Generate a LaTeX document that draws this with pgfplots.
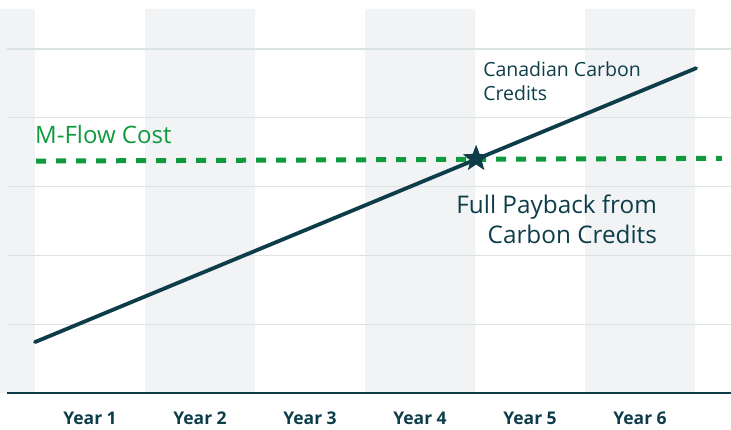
\documentclass[border=0pt]{standalone}
\usepackage{pgfplots}
\pgfplotsset{compat=1.18}
\usepackage{fontspec}
\setmainfont{Open Sans}
\definecolor{teal}{HTML}{0E3D4A}
\definecolor{mgreen}{HTML}{109A3E}
\definecolor{band}{HTML}{F1F3F5}
\definecolor{gridc}{HTML}{DCE3E3}
\pgfdeclareplotmark{fstar}{%
  \pgfpathmoveto{\pgfpointpolar{90}{\pgfplotmarksize}}%
  \pgfpathlineto{\pgfpointpolar{126}{0.42\pgfplotmarksize}}%
  \pgfpathlineto{\pgfpointpolar{162}{\pgfplotmarksize}}%
  \pgfpathlineto{\pgfpointpolar{198}{0.42\pgfplotmarksize}}%
  \pgfpathlineto{\pgfpointpolar{234}{\pgfplotmarksize}}%
  \pgfpathlineto{\pgfpointpolar{270}{0.42\pgfplotmarksize}}%
  \pgfpathlineto{\pgfpointpolar{306}{\pgfplotmarksize}}%
  \pgfpathlineto{\pgfpointpolar{342}{0.42\pgfplotmarksize}}%
  \pgfpathlineto{\pgfpointpolar{18}{\pgfplotmarksize}}%
  \pgfpathlineto{\pgfpointpolar{54}{0.42\pgfplotmarksize}}%
  \pgfpathclose
  \pgfusepathqfill}
\begin{document}
\begin{tikzpicture}
\begin{axis}[
  set layers,
  scale only axis,
  width=724pt, height=384pt,
  xmin=0.2455, xmax=6.827,
  ymin=0, ymax=5.58,
  axis y line*=left,
  y axis line style={draw=none},
  axis x line*=bottom,
  x axis line style={draw=teal, line width=2.5pt, -},
  xtick={1,2,3,4,5,6},
  xticklabels={Year 1,Year 2,Year 3,Year 4,Year 5,Year 6},
  xtick style={draw=none},
  xticklabel style={font=\bfseries\fontsize{17.5}{20}\selectfont, text=teal, anchor=base, yshift=-32pt},
  ytick={1,2,3,4,5},
  yticklabels={},
  ytick style={draw=none},
  ymajorgrids=true,
  xmajorgrids=false,
  y grid style={draw=gridc, line width=1.2pt},
  clip=true,
]
\addplot[ybar interval, fill=band, draw=none, on layer=axis background]
  coordinates {(-0.5,5.58) (0.5,0) (1.5,5.58) (2.5,0) (3.5,5.58) (4.5,0) (5.5,5.58) (6.5,0) (7.5,0)};
\addplot[mgreen, line width=5pt, dash pattern=on 10pt off 10pt] coordinates {(0.51,3.37) (6.745,3.41)};
\addplot[teal, line width=3.8pt, line cap=round] coordinates {(0.5,0.74) (6.51,4.72)};
\addplot[only marks, mark=fstar, mark size=14pt, teal] coordinates {(4.51,3.405)};
\node[anchor=base west, inner sep=0, text=mgreen, font=\fontsize{24}{28}\selectfont] at (axis cs:0.5,3.62) {M-Flow Cost};
\node[anchor=north west, inner sep=0, text=teal, align=left, font=\fontsize{19.5}{24}\selectfont] at (axis cs:4.573,4.82) {Canadian Carbon\\Credits};
\node[anchor=north east, inner sep=0, text=teal, align=right, font=\fontsize{24.3}{29.5}\selectfont] at (axis cs:6.155,2.875) {Full Payback from\\Carbon Credits};
\end{axis}
\pgfresetboundingbox
\path[use as bounding box] ([shift={(-7pt,-37pt)}]current axis.south west) rectangle ([shift={(0pt,9pt)}]current axis.north east);
\end{tikzpicture}
\end{document}
